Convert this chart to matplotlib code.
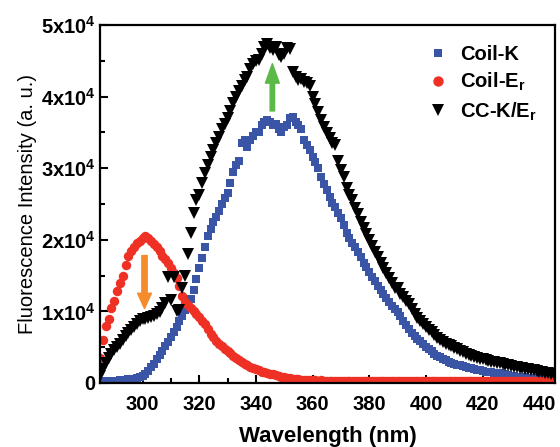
import matplotlib
matplotlib.use('Agg')
import matplotlib.pyplot as plt
from matplotlib.ticker import MultipleLocator, FuncFormatter

plt.rcParams['font.family'] = ['Liberation Sans', 'DejaVu Sans']
plt.rcParams['mathtext.fontset'] = 'custom'
plt.rcParams['mathtext.rm'] = 'Liberation Sans'
plt.rcParams['mathtext.bf'] = 'Liberation Sans:bold'

# wavelength (nm), one reading per nm
wavelength = list(range(285, 446))

coil_k = [
    300, 250, 200, 200, 250, 300, 300, 350, 400, 450,
    500, 550, 600, 700, 800, 1000, 1300, 1700, 2200, 2700,
    3300, 3900, 4500, 5100, 5700, 6400, 7100, 7800, 8600, 9300,
    10200, 11000, 11800, 13000, 14500, 16000, 17500, 19000, 20500, 21500,
    22500, 23200, 24000, 25000, 25800, 26500, 28000, 29500, 30500, 31000,
    33500, 34000, 33000, 34000, 34500, 35000, 35000, 36000, 36500, 36800,
    36500, 36000, 36200, 35500, 35000, 35800, 36000, 37000, 37200, 36500,
    36000, 35500, 34000, 33200, 32500, 31500, 30800, 30000, 28800, 27800,
    27000, 26000, 25200, 24600, 23800, 23000, 22000, 21000, 20300, 19600,
    19000, 18300, 17600, 16800, 16200, 15500, 14800, 14200, 13600, 13000,
    12400, 11900, 11300, 10800, 10300, 9900, 9300, 8700, 8100, 7500,
    7000, 6600, 6200, 5800, 5400, 5000, 4700, 4400, 4100, 3800,
    3600, 3400, 3200, 3000, 2850, 2700, 2550, 2450, 2350, 2250,
    2150, 2050, 1950, 1850, 1750, 1650, 1600, 1550, 1500, 1450,
    1400, 1350, 1300, 1200, 1100, 1000, 950, 900, 850, 800,
    800, 750, 750, 700, 700, 700, 650, 600, 600, 550,
    500,
]

coil_er = [
    3500, 6000, 8000, 9000, 10500, 11500, 12800, 14000, 15000, 16500,
    17800, 18500, 19000, 19500, 19800, 20200, 20500, 20300, 19800, 19400,
    19000, 18500, 17800, 17300, 16700, 16000, 15300, 14600, 13500, 12200,
    11300, 10900, 10500, 10100, 9600, 9200, 8600, 8200, 7600, 6900,
    6400, 5900, 5500, 5100, 4800, 4500, 4200, 3800, 3500, 3200,
    2900, 2700, 2500, 2300, 2100, 1900, 1800, 1600, 1500, 1400,
    1300, 1200, 1100, 1000, 900, 800, 700, 650, 600, 550,
    500, 450, 420, 400, 380, 360, 350, 340, 350, 330,
    320, 340, 330, 310, 320, 330, 310, 300, 320, 310,
    300, 310, 320, 300, 290, 310, 300, 290, 300, 310,
    290, 300, 280, 290, 300, 290, 280, 290, 300, 280,
    290, 280, 270, 290, 280, 270, 280, 290, 270, 280,
    270, 280, 260, 270, 280, 270, 260, 270, 260, 270,
    260, 250, 260, 270, 260, 250, 260, 250, 260, 250,
    240, 250, 260, 250, 240, 250, 240, 250, 240, 230,
    240, 250, 240, 230, 240, 230, 240, 230, 220, 230,
    220,
]

cc_k_er = [
    1000, 2000, 2800, 3500, 4000, 4600, 5000, 5500, 6000, 6500,
    7000, 7400, 7800, 8200, 8700, 8900, 9000, 9100, 9200, 9300,
    9600, 9900, 10500, 11200, 14800, 11600, 14800, 10000, 10200, 13300,
    15000, 18000, 21000, 23800, 25600, 26200, 28000, 29300, 30500, 31500,
    32500, 33500, 34400, 35500, 36200, 37000, 38000, 39100, 40000, 40800,
    41500, 42300, 42800, 43800, 44500, 45000, 45100, 46000, 47000, 47300,
    46800, 46500, 46900, 45800, 45500, 46000, 46800, 46600, 43500, 42700,
    42300, 42500, 42000, 41900, 41500, 40000, 39000, 37800, 36800, 35800,
    34900, 34200, 33500, 33200, 31000, 29800, 28800, 27200, 26200, 25500,
    24400, 23600, 22500, 21600, 20800, 20000, 19200, 18300, 17600, 16800,
    16100, 15400, 14700, 14000, 13300, 13200, 12500, 12000, 11500, 11100,
    10400, 9700, 9100, 8700, 8200, 7800, 7400, 7100, 6700, 6300,
    6000, 5700, 5500, 5300, 5100, 4900, 4700, 4500, 4300, 4100,
    3900, 3800, 3650, 3500, 3400, 3300, 3200, 3100, 3000, 2900,
    2800, 2750, 2650, 2550, 2500, 2400, 2300, 2200, 2100, 2050,
    2000, 1900, 1850, 1750, 1700, 1600, 1500, 1450, 1400, 1300,
    1200,
]

fig = plt.figure(figsize=(5.6, 4.47), dpi=100)
ax = fig.add_axes([0.1786, 0.1432, 0.8124, 0.8008])

ax.plot(wavelength, coil_k, 's', color='#3A55A5', markersize=5.4, markeredgewidth=0, label='Coil-K')
ax.plot(wavelength, coil_er, 'o', color='#EE3124', markersize=6.8, markeredgewidth=0, label='Coil-E$_\\mathbf{r}$')
ax.plot(wavelength, cc_k_er, 'v', color='black', markersize=8, markeredgewidth=0, label='CC-K/E$_\\mathbf{r}$')

# arrows showing the change
ax.annotate('', xy=(300.7, 10400), xytext=(300.7, 17800),
            arrowprops=dict(color='#F68B2C', width=3.8, headwidth=10, headlength=11, shrink=0))
ax.annotate('', xy=(345.8, 44600), xytext=(345.8, 38000),
            arrowprops=dict(color='#5BB947', width=3.2, headwidth=10, headlength=14, shrink=0))

ax.set_xlim(285, 445.5)
ax.set_ylim(0, 50000)
ax.xaxis.set_major_locator(MultipleLocator(20))
ax.xaxis.set_minor_locator(MultipleLocator(10))
ax.yaxis.set_major_locator(MultipleLocator(10000))
ax.yaxis.set_minor_locator(MultipleLocator(5000))

def sci_label(v, pos):
    if v == 0:
        return '0'
    return '$\\mathbf{%dx10^4}$' % int(round(v / 10000))

ax.yaxis.set_major_formatter(FuncFormatter(sci_label))
ax.tick_params(which='both', direction='in', top=False, right=False, width=1.5)
ax.tick_params(which='major', length=6, labelsize=14.5)
ax.tick_params(axis='x', which='major', pad=9)
ax.tick_params(axis='y', which='major', pad=3)
ax.tick_params(which='minor', length=3.5)
for lbl in ax.get_xticklabels() + ax.get_yticklabels():
    lbl.set_fontweight('bold')
for sp in ax.spines.values():
    sp.set_linewidth(1.6)

ax.set_xlabel('Wavelength (nm)', fontsize=16, fontweight='bold', labelpad=8)
ax.set_ylabel('Fluorescence Intensity (a. u.)', fontsize=14.5, labelpad=3)

leg = ax.legend(loc='upper right', bbox_to_anchor=(1.0, 0.995), frameon=False,
                prop={'size': 14.5, 'weight': 'bold'}, handletextpad=0.5,
                labelspacing=0.35, markerscale=1.1, handlelength=1.2)

fig.savefig('out.png', dpi=100)
